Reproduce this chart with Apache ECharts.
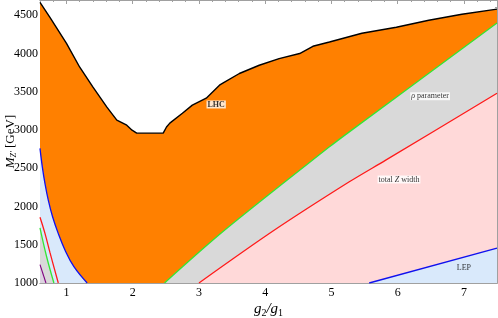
<!DOCTYPE html>
<html><head><meta charset="utf-8">
<script src="https://cdn.jsdelivr.net/npm/echarts@6/dist/echarts.min.js"></script>
<style>html,body{margin:0;padding:0;background:#fff}#c{width:498px;height:318px}</style>
</head><body><div id="c"></div>
<script>
// ---- data ----
const xTicks = [1, 2, 3, 4, 5, 6, 7];
const yTicks = [1000, 1500, 2000, 2500, 3000, 3500, 4000, 4500];

// LHC exclusion boundary (black)
const lhcX = [0.6, 0.75, 1.0, 1.2, 1.4, 1.61, 1.76, 1.91, 1.99, 2.06, 2.46, 2.51, 2.56, 2.75, 2.90, 3.11, 3.31, 3.36, 3.61, 3.91, 4.21, 4.52, 4.72, 4.97, 5.46, 5.98, 6.47, 6.97, 7.5];
const lhcY = [4670, 4474, 4134, 3821, 3560, 3299, 3129, 3063, 2998, 2959, 2959, 3040, 3090, 3220, 3325, 3416, 3586, 3612, 3739, 3847, 3934, 4000, 4095, 4151, 4265, 4343, 4435, 4513, 4580];

// rho parameter boundary (green), right branch
const rhoRX = [2.48, 3.39, 4.97, 5.27, 7.5];
const rhoRY = [1000, 1692, 2780, 2976, 4400];
// total Z width boundary (red), right branch
const zwRX = [3.0, 4.14, 5.27, 5.82, 7.5];
const zwRY = [1000, 1692, 2323, 2606, 3480];
// LEP boundary (blue), right branch
const lepRX = [5.57, 7.5];
const lepRY = [1000, 1456];

// left branches
const lepLX = [0.6, 0.635, 0.675, 0.725, 0.79, 0.875, 0.977, 1.112, 1.312];
const lepLY = [2760, 2519, 2302, 2084, 1866, 1649, 1431, 1213, 1000];
const zwLX = [0.6, 0.675, 0.75, 0.876];
const zwLY = [1860, 1649, 1400, 1000];
const rhoLX = [0.6, 0.70, 0.81];
const rhoLY = [1720, 1343, 1000];
const purLX = [0.6, 0.69];
const purLY = [1240, 1000];

// annotations
const labelTexts = ['LHC', '{i|ρ} parameter', 'total {i|Z} width', 'LEP'];
const labelX = [3.26, 6.49, 6.02, 7.0];
const labelY = [3334, 3442, 2354, 1200];

// ---- chart ----
const zip = (a, b) => a.map((v, i) => [v, b[i]]);
const FONT = 'Liberation Serif';
const XMIN = 0.6, XMAX = 7.5, YMIN = 1000, YMAX = 4700;
const minorX = []; for (let v = 0.6; v < 7.5; v += 0.2) { const r = Math.round(v * 10) / 10; if (Math.abs(r - Math.round(r)) > 1e-6) minorX.push(r); }
const minorY = []; for (let v = 1100; v < 4700; v += 100) { if (v % 500) minorY.push(v); }
const frameColor = '#a0a0a0';

function area(x, y, fill, line, lw, smooth) {
  return {
    type: 'line', data: zip(x, y), showSymbol: false, smooth: smooth || 0,
    lineStyle: { color: line, width: lw },
    areaStyle: { color: fill, opacity: 1, origin: 'start' },
    silent: true, animation: false, clip: true
  };
}

const chart = echarts.init(document.getElementById('c'), null, { renderer: 'canvas' });
const mkX = (pos, ticks, len, labels) => ({
  type: 'value', min: XMIN, max: XMAX, position: pos,
  axisLine: { show: true, lineStyle: { color: frameColor, width: 1 } },
  axisTick: { show: true, inside: true, length: len, customValues: ticks, lineStyle: { color: frameColor } },
  axisLabel: labels ? { show: true, customValues: xTicks, margin: 4, color: '#000', fontFamily: FONT, fontSize: 12, formatter: v => String(v) } : { show: false },
  splitLine: { show: false }
});
const mkY = (pos, ticks, len, labels) => ({
  type: 'value', min: YMIN, max: YMAX, position: pos,
  axisLine: { show: true, lineStyle: { color: frameColor, width: 1 } },
  axisTick: { show: true, inside: true, length: len, customValues: ticks, lineStyle: { color: frameColor } },
  axisLabel: labels ? { show: true, customValues: yTicks, margin: 2, color: '#000', fontFamily: FONT, fontSize: 12, formatter: v => String(v) } : { show: false },
  splitLine: { show: false }
});

const xMain = mkX('bottom', xTicks, 4, true);
xMain.name = '{i|g}{s|2}{i|/g}{s|1}';
xMain.nameLocation = 'middle';
xMain.nameGap = 18;
xMain.nameMoveOverlap = false;
xMain.nameTextStyle = {
  fontFamily: FONT, fontSize: 15, color: '#000',
  rich: {
    i: { fontFamily: FONT, fontSize: 15, fontStyle: 'italic', color: '#000' },
    s: { fontFamily: FONT, fontSize: 10, color: '#000', verticalAlign: 'bottom', padding: [7, 0, 0, 0] }
  }
};
const yMain = mkY('left', yTicks, 4, true);
yMain.name = '{i|M}{s|Z′}{n| [GeV]}';
yMain.nameLocation = 'middle';
yMain.nameGap = 22;
yMain.nameMoveOverlap = false;
yMain.nameTextStyle = {
  fontFamily: FONT, fontSize: 12, color: '#000',
  rich: {
    i: { fontFamily: FONT, fontSize: 13, fontStyle: 'italic', color: '#000' },
    s: { fontFamily: FONT, fontSize: 8, fontStyle: 'italic', color: '#000', verticalAlign: 'bottom', padding: [6, 0, 0, 0] },
    n: { fontFamily: FONT, fontSize: 13, color: '#000' }
  }
};

const labelSeries = {
  type: 'scatter', xAxisIndex: 0, yAxisIndex: 0, symbolSize: 0, silent: true, animation: false,
  data: labelTexts.map((t, i) => ({ value: [labelX[i], labelY[i]], name: t })),
  label: {
    show: true, position: 'inside', formatter: p => p.name,
    fontFamily: FONT, fontSize: 8, color: '#000', backgroundColor: '#fff', padding: [0, 1],
    rich: { i: { fontFamily: FONT, fontSize: 8, fontStyle: 'italic', color: '#000' } }
  },
  z: 10
};
labelSeries.data[0].label = { fontWeight: 'bold' };
labelSeries.data[3].label = { backgroundColor: 'transparent' };

chart.setOption({
  animation: false,
  backgroundColor: '#fff',
  grid: { left: 40, right: 1, top: 0, bottom: 35, containLabel: false, outerBoundsMode: 'none' },
  xAxis: [xMain, mkX('top', xTicks, 4, false), mkX('bottom', minorX, 2, false), mkX('top', minorX, 2, false)],
  yAxis: [yMain, mkY('right', yTicks, 4, false), mkY('left', minorY, 2, false), mkY('right', minorY, 2, false)],
  series: [
    area(lhcX, lhcY, '#ff8000', '#000', 1.4, 0),
    area(rhoRX, rhoRY, '#d9d9d9', '#33e633', 1.3, 0.3),
    area(zwRX, zwRY, '#ffd9d9', '#ff1a1a', 1.3, 0.3),
    area(lepRX, lepRY, '#d9e9fb', '#1010ee', 1.3, 0),
    area(lepLX, lepLY, '#d9e9fb', '#1010ee', 1.3, 0.4),
    area(zwLX, zwLY, '#d9e9fb', '#ff1a1a', 1.3, 0.4),
    area(rhoLX, rhoLY, '#d9d9d9', '#33e633', 1.3, 0.4),
    area(purLX, purLY, '#dcd3e0', '#800080', 1.1, 0),
    labelSeries
  ]
});
</script>
</body></html>
